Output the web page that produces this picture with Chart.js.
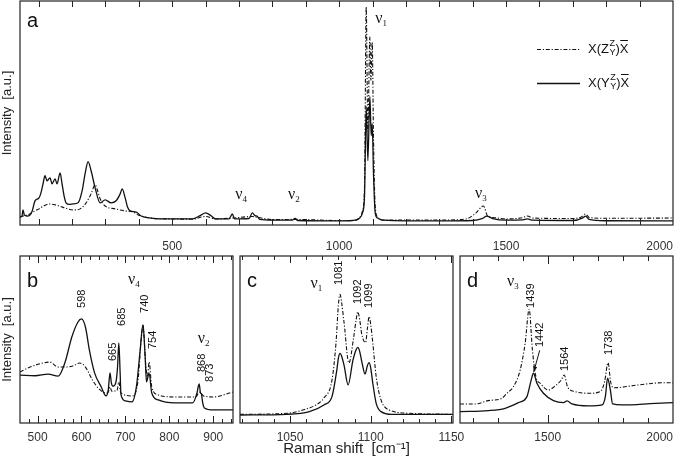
<!DOCTYPE html>
<html>
<head>
<meta charset="utf-8">
<script src="https://cdn.jsdelivr.net/npm/chart.js@4.4.1/dist/chart.umd.min.js"></script>
<style>
  html, body { margin: 0; padding: 0; background: #fff; }
  #fig { position: relative; width: 685px; height: 461px; overflow: hidden; }
  .panel { position: absolute; }
</style>
</head>
<body>
<div id="fig">
  <div class="panel" style="left:0;top:0;width:685px;height:252px"><canvas id="chartA"></canvas></div>
  <div class="panel" style="left:0;top:252px;width:240px;height:209px"><canvas id="chartB"></canvas></div>
  <div class="panel" style="left:236px;top:252px;width:234px;height:209px"><canvas id="chartC"></canvas></div>
  <div class="panel" style="left:456px;top:252px;width:229px;height:209px"><canvas id="chartD"></canvas></div>
</div>
<script>
/* ---- Raman spectra, two polarisations: X(Z Z/Y)X (dash-dot) and X(Y Z/Y)X (solid) ---- */

/* panel a: overview */
const aZzX = [44, 53, 68, 85, 101, 116, 131, 149, 165, 179, 203, 224, 242, 257, 269, 276, 284, 299, 329, 359, 383, 398, 437, 497, 560, 600, 630, 680, 740, 754, 800, 868, 1000, 1040, 1060, 1070, 1076, 1081, 1086, 1092, 1095, 1099, 1103, 1108, 1115, 1130, 1300, 1380, 1410, 1432, 1445, 1470, 1500, 1550, 1564, 1580, 1700, 1725, 1738, 1750, 1800, 2000];
const aZzY = [3.6, 4.0, 4.5, 6.0, 7.2, 8.6, 9.4, 9.0, 8.3, 7.6, 6.7, 7.2, 9.9, 13.9, 17.9, 15.5, 11.7, 8.5, 7.2, 6.3, 5.8, 4.5, 3.1, 2.7, 2.6, 3.8, 2.7, 3.1, 3.8, 3.5, 2.4, 2.5, 2.0, 2.0, 3.1, 6.3, 17.5, 97.3, 42.0, 83.9, 64.6, 81.6, 37.7, 8.5, 3.6, 2.2, 2.2, 2.7, 5.4, 8.5, 4.0, 3.2, 2.7, 3.3, 4.0, 3.1, 2.9, 3.6, 4.9, 3.3, 3.0, 3.1];
const aYzX = [44, 50, 53, 57, 68, 80, 89, 101, 108, 113, 119, 125, 130, 134, 140, 149, 155, 164, 170, 176, 182, 192, 203, 218, 230, 239, 248, 257, 269, 284, 299, 317, 332, 344, 350, 359, 366, 374, 392, 407, 437, 497, 560, 585, 600, 615, 630, 670, 680, 687, 730, 740, 748, 754, 762, 800, 860, 868, 876, 1000, 1040, 1060, 1070, 1076, 1081, 1086, 1092, 1096, 1099, 1103, 1108, 1115, 1130, 1300, 1400, 1430, 1442, 1460, 1500, 1550, 1564, 1580, 1700, 1730, 1738, 1748, 1800, 2000];
const aYzY = [3.6, 4.0, 6.7, 4.5, 4.0, 6.0, 10.8, 12.1, 15.0, 18.4, 22.0, 19.7, 20.5, 21.0, 18.4, 20.6, 18.4, 23.3, 18.4, 13.0, 9.9, 9.2, 9.4, 9.9, 15.2, 22.9, 28.3, 24.2, 16.6, 9.9, 11.2, 9.9, 10.8, 13.9, 16.1, 12.1, 8.0, 6.3, 5.8, 4.0, 3.1, 2.7, 2.7, 4.3, 5.4, 4.3, 2.7, 2.7, 4.9, 2.7, 2.9, 5.4, 4.2, 4.0, 2.5, 2.2, 2.2, 2.9, 2.0, 1.8, 2.0, 2.9, 5.4, 13.0, 52.9, 28.7, 57.4, 39.9, 45.3, 22.0, 5.4, 3.1, 2.2, 1.8, 2.0, 3.0, 4.0, 2.9, 2.2, 2.3, 2.7, 2.2, 2.0, 3.2, 4.0, 2.5, 1.9, 1.8];
const ticksA  = [100, 200, 300, 400, 500, 600, 700, 800, 900, 1000, 1100, 1200, 1300, 1400, 1500, 1600, 1700, 1800, 1900, 2000];
const labelsA = [500, 1000, 1500, 2000];

/* panel b: nu4 / nu2 region */
const bZzX = [460, 483, 512, 528, 547, 565, 580, 596, 609, 625, 640, 656, 661, 665, 669, 675, 681, 685, 689, 693, 715, 728, 736, 740, 746, 750, 754, 760, 775, 812, 857, 862, 868, 873, 878, 900, 945];
const bZzY = [30.5, 33.5, 35.9, 36.5, 33.5, 33.5, 34.1, 35.9, 33.5, 25.7, 20.4, 18.0, 18.5, 21.6, 19.0, 19.2, 19.5, 24.6, 18.5, 17.4, 16.2, 24.0, 49.7, 58.7, 35.9, 27.5, 36.5, 21.6, 16.8, 15.6, 15.6, 16.0, 18.6, 17.5, 16.2, 15.6, 18.6];
const bYzX = [460, 494, 524, 547, 562, 578, 592, 600, 609, 618, 630, 645, 656, 661, 665, 668, 672, 678, 682, 685, 688, 690, 700, 715, 725, 733, 740, 745, 748, 754, 760, 775, 812, 853, 863, 866, 868, 871, 873, 876, 880, 900, 945];
const bYzY = [28.7, 28.3, 29.3, 28.1, 35.9, 51.5, 60.5, 62.3, 57.5, 43.7, 29.9, 21.6, 16.2, 20.0, 30.0, 24.0, 22.0, 24.0, 33.0, 48.0, 30.0, 16.8, 13.2, 12.6, 21.6, 41.9, 58.7, 39.5, 24.6, 29.9, 18.0, 13.8, 12.0, 12.0, 18.0, 22.0, 23.4, 18.0, 17.5, 12.0, 9.0, 7.8, 7.8];
const ticksB  = [460, 480, 500, 520, 540, 560, 580, 600, 620, 640, 660, 680, 700, 720, 740, 760, 780, 800, 820, 840, 860, 880, 900, 920, 940];
const labelsB = [500, 600, 700, 800, 900];

/* panel c: nu1 triplet */
const cZzX = [1019, 1048, 1058, 1066, 1071, 1076, 1078.5, 1080, 1081, 1082, 1083.5, 1086.5, 1089.5, 1091, 1092, 1093, 1094.5, 1096.8, 1098, 1099, 1100, 1101.3, 1103.4, 1106.4, 1111.5, 1124, 1151];
const cZzY = [5.2, 5.8, 7.8, 10.8, 15.0, 25.7, 48.0, 71.0, 77.0, 72.0, 60.0, 35.9, 51.7, 62.0, 66.6, 63.0, 53.0, 48.1, 57.0, 63.7, 59.0, 47.9, 27.7, 13.8, 7.8, 5.8, 5.2];
const cYzX = [1019, 1048, 1062, 1071, 1076, 1079, 1080, 1081, 1082, 1083.5, 1086, 1089, 1091, 1092, 1093, 1094.7, 1096.5, 1098, 1099, 1100, 1101.3, 1103.4, 1106.4, 1113, 1151];
const cYzY = [4.8, 5.2, 6.8, 10.8, 15.8, 31.7, 39.0, 41.7, 40.0, 34.5, 22.8, 37.7, 44.0, 45.3, 43.5, 35.7, 29.3, 34.5, 36.1, 33.0, 23.8, 11.8, 6.8, 5.2, 5.2];
const ticksC  = [1020, 1030, 1040, 1050, 1060, 1070, 1080, 1090, 1100, 1110, 1120, 1130, 1140, 1150];
const labelsC = [1050, 1100, 1150];

/* panel d: nu3 region */
const dZzX = [1150, 1210, 1263, 1317, 1337, 1363, 1390, 1410, 1426, 1439, 1453, 1470, 1503, 1530, 1554, 1566, 1579, 1610, 1663, 1710, 1727, 1741, 1751, 1763, 1863, 1957, 2000];
const dZzY = [11.4, 11.4, 13.4, 14.8, 17.8, 21.7, 31.7, 47.7, 68.1, 43.7, 27.7, 23.8, 19.8, 22.2, 25.7, 28.7, 21.7, 18.8, 17.8, 18.8, 24.7, 36.1, 24.7, 21.1, 22.8, 24.1, 24.1];
const dYzX = [1150, 1263, 1330, 1383, 1417, 1434, 1443, 1457, 1483, 1523, 1563, 1577, 1597, 1663, 1717, 1730, 1739, 1750, 1759, 1797, 1930, 2000];
const dYzY = [6.8, 7.4, 8.8, 12.2, 15.8, 25.7, 29.8, 23.8, 17.8, 13.4, 12.2, 13.2, 11.4, 10.2, 10.8, 15.8, 26.8, 19.8, 11.4, 10.8, 11.8, 12.2];
const ticksD  = [1200, 1300, 1400, 1500, 1600, 1700, 1800, 1900, 2000];
const labelsD = [1500, 2000];


const SANS  = '"Liberation Sans", Arial, sans-serif';
const SERIF = '"Liberation Serif", "Times New Roman", serif';
const DASH  = [4, 1.8, 1.2, 1.8];

function series(xs, ys) { return xs.map((x, i) => ({ x: x, y: ys[i] })); }

// polarisation label like X(Z Z/Y)X-bar
function drawPol(ctx, x, y, first) {
  ctx.fillStyle = "#111";
  ctx.strokeStyle = "#111";
  ctx.textAlign = "left";
  ctx.textBaseline = "middle";
  ctx.font = "13px " + SANS;
  const s = "X(" + first;
  ctx.fillText(s, x, y);
  x += ctx.measureText(s).width + 0.5;
  ctx.font = "9px " + SANS;
  ctx.fillText("Z", x, y - 5);
  ctx.fillText("Y", x, y + 3.5);
  x += ctx.measureText("Z").width + 0.5;
  ctx.font = "13px " + SANS;
  ctx.fillText(")", x, y);
  x += ctx.measureText(")").width;
  const wX = ctx.measureText("X").width;
  ctx.fillText("X", x, y);
  ctx.lineWidth = 1;
  ctx.setLineDash([]);
  ctx.beginPath();
  ctx.moveTo(x + 0.5, y - 8.5);
  ctx.lineTo(x + wX - 0.5, y - 8.5);
  ctx.stroke();
}

/* ---- frame, inward ticks and annotations ---- */
function decoFor(cfg) {
  return {
    id: "deco",
    afterDatasetsDraw(chart) {
      const ctx = chart.ctx, a = chart.chartArea;
      const xs = chart.scales.x, ys = chart.scales.y;
      ctx.save();

      ctx.strokeStyle = "#222";
      ctx.lineWidth = 1.2;
      ctx.setLineDash([]);
      ctx.strokeRect(a.left, a.top, a.right - a.left, a.bottom - a.top);

      ctx.lineWidth = 1;
      xs.ticks.forEach(t => {
        const px = Math.round(xs.getPixelForValue(t.value)) + 0.5;
        if (px <= a.left + 1 || px >= a.right - 1) return;
        const len = cfg.labels.includes(t.value) ? cfg.major : cfg.minor;
        ctx.beginPath();
        ctx.moveTo(px, a.bottom); ctx.lineTo(px, a.bottom - len);
        ctx.moveTo(px, a.top);    ctx.lineTo(px, a.top + len);
        ctx.stroke();
      });

      ctx.fillStyle = "#111";
      ctx.textAlign = "left";
      ctx.textBaseline = "alphabetic";
      ctx.font = "20px " + SANS;
      ctx.fillText(cfg.letter, a.left + 7, a.top + cfg.letterDy);

      (cfg.nu || []).forEach(n => {
        const px = xs.getPixelForValue(n.x), py = ys.getPixelForValue(n.y);
        ctx.font = "16px " + SERIF;
        ctx.fillText("ν", px, py);
        const w = ctx.measureText("ν").width;
        ctx.font = "9px " + SERIF;
        ctx.fillText(n.s, px + w, py + 3);
      });

      ctx.font = "11px " + SANS;
      ctx.textBaseline = "middle";
      (cfg.peaks || []).forEach(p => {
        ctx.save();
        ctx.translate(xs.getPixelForValue(p.x), ys.getPixelForValue(p.y));
        ctx.rotate(-Math.PI / 2);
        ctx.fillText(p.t, 0, 0);
        ctx.restore();
      });

      if (cfg.arrow) {
        const r = cfg.arrow;
        const x0 = xs.getPixelForValue(r.x0), y0 = ys.getPixelForValue(r.y0);
        const x1 = xs.getPixelForValue(r.x1), y1 = ys.getPixelForValue(r.y1);
        const ang = Math.atan2(y1 - y0, x1 - x0);
        ctx.strokeStyle = "#111";
        ctx.beginPath(); ctx.moveTo(x0, y0); ctx.lineTo(x1, y1); ctx.stroke();
        ctx.beginPath();
        ctx.moveTo(x1, y1);
        ctx.lineTo(x1 - 6 * Math.cos(ang - 0.35), y1 - 6 * Math.sin(ang - 0.35));
        ctx.lineTo(x1 - 6 * Math.cos(ang + 0.35), y1 - 6 * Math.sin(ang + 0.35));
        ctx.closePath();
        ctx.fill();
      }

      if (cfg.legend) {
        const ds = chart.data.datasets;
        const x0 = a.left + 517, x1 = a.left + 560;
        [[ds[0], 49, "Z"], [ds[1], 83, "Y"]].forEach(([d, y, first]) => {
          ctx.strokeStyle = d.borderColor;
          ctx.lineWidth = d.borderWidth;
          ctx.setLineDash(d.borderDash || []);
          ctx.beginPath(); ctx.moveTo(x0, y + 0.5); ctx.lineTo(x1, y + 0.5); ctx.stroke();
          drawPol(ctx, x1 + 8, y, first);
        });
      }
      ctx.restore();
    }
  };
}

function makePanel(id, p) {
  const yScale = {
    min: 0, max: 100,
    display: !!p.yTitle,
    grid: { display: false },
    border: { display: false },
    ticks: { display: false },
    title: { display: !!p.yTitle, text: p.yTitle, color: "#222", font: { family: SANS, size: 13 }, padding: 0 }
  };
  if (p.yTitle) yScale.afterFit = s => { s.width = 20; };

  new Chart(document.getElementById(id), {
    type: "line",
    data: {
      datasets: [
        { label: "X(ZZ/Y)X", data: series(p.zzX, p.zzY), borderColor: "#111", borderWidth: 1.1,
          borderDash: DASH, pointRadius: 0, cubicInterpolationMode: "monotone" },
        { label: "X(YZ/Y)X", data: series(p.yzX, p.yzY), borderColor: "#111", borderWidth: 1.3,
          pointRadius: 0, cubicInterpolationMode: "monotone" }
      ]
    },
    options: {
      responsive: true,
      maintainAspectRatio: false,
      animation: false,
      layout: { padding: p.pad },
      plugins: { legend: { display: false }, tooltip: { enabled: false } },
      scales: {
        x: {
          type: "linear", min: p.min, max: p.max,
          afterBuildTicks: s => { s.ticks = p.ticks.map(v => ({ value: v })); },
          afterFit: s => { s.height = p.axisH; s.paddingLeft = 0; s.paddingRight = 0; },
          grid: { display: false, drawTicks: false },
          border: { display: false },
          ticks: {
            autoSkip: false, maxRotation: 0, padding: p.tickPad, align: p.align || "center",
            color: "#333", font: { family: SANS, size: 12 },
            callback: v => p.labels.includes(v) ? String(v) : ""
          },
          title: p.xTitle
            ? { display: true, text: p.xTitle, color: "#222", font: { family: SANS, size: 15 }, padding: { top: 0, bottom: 3 } }
            : { display: false }
        },
        y: yScale
      }
    },
    plugins: [decoFor(p.deco)]
  });
}

makePanel("chartA", {
  zzX: aZzX, zzY: aZzY, yzX: aYzX, yzY: aYzY,
  min: 44, max: 2000, ticks: ticksA, labels: labelsA, align: "inner",
  pad: { left: 0, right: 12, top: 1, bottom: 0 }, axisH: 27, tickPad: 14,
  yTitle: "Intensity  [a.u.]",
  deco: {
    letter: "a", letterDy: 26, labels: labelsA, major: 6, minor: 6, legend: true,
    nu: [{ x: 1108, y: 90, s: "1" }, { x: 689, y: 11.7, s: "4" }, { x: 847, y: 11.7, s: "2" }, { x: 1407, y: 12.1, s: "3" }]
  }
});

makePanel("chartB", {
  zzX: bZzX, zzY: bZzY, yzX: bYzX, yzY: bYzY,
  min: 460, max: 945, ticks: ticksB, labels: labelsB,
  pad: { left: 0, right: 7, top: 4, bottom: 0 }, axisH: 38, tickPad: 7,
  yTitle: "Intensity  [a.u.]",
  deco: {
    letter: "b", letterDy: 31, labels: labelsB, major: 7, minor: 4,
    nu: [{ x: 706, y: 83.2, s: "4" }, { x: 865, y: 47.9, s: "2" }],
    peaks: [
      { t: "598", x: 601, y: 68.9 }, { t: "665", x: 672, y: 37.1 }, { t: "685", x: 692, y: 58.1 },
      { t: "740", x: 745, y: 65.9 }, { t: "754", x: 763, y: 44.3 }, { t: "868", x: 874, y: 30.5 },
      { t: "873", x: 893, y: 24.6 }
    ]
  }
});

makePanel("chartC", {
  zzX: cZzX, zzY: cZzY, yzX: cYzX, yzY: cYzY,
  min: 1019, max: 1151, ticks: ticksC, labels: labelsC,
  pad: { left: 4, right: 17, top: 4, bottom: 0 }, axisH: 38, tickPad: 7,
  xTitle: "Raman shift  [cm⁻¹]",
  deco: {
    letter: "c", letterDy: 31, labels: labelsC, major: 7, minor: 4,
    nu: [{ x: 1062.7, y: 80.8, s: "1" }],
    peaks: [{ t: "1081", x: 1080.5, y: 82.6 }, { t: "1092", x: 1092.2, y: 71.3 }, { t: "1099", x: 1099, y: 68.9 }]
  }
});

makePanel("chartD", {
  zzX: dZzX, zzY: dZzY, yzX: dYzX, yzY: dYzY,
  min: 1150, max: 2000, ticks: ticksD, labels: labelsD, align: "inner",
  pad: { left: 4, right: 12, top: 4, bottom: 0 }, axisH: 38, tickPad: 7,
  deco: {
    letter: "d", letterDy: 31, labels: labelsD, major: 8, minor: 5,
    nu: [{ x: 1338, y: 82, s: "3" }],
    peaks: [
      { t: "1439", x: 1434, y: 68.9 }, { t: "1442", x: 1470, y: 45.5 },
      { t: "1564", x: 1570, y: 31.1 }, { t: "1738", x: 1746, y: 40.7 }
    ],
    arrow: { x0: 1468, y0: 43.5, x1: 1444, y1: 30.5 }
  }
});
</script>
</body>
</html>
